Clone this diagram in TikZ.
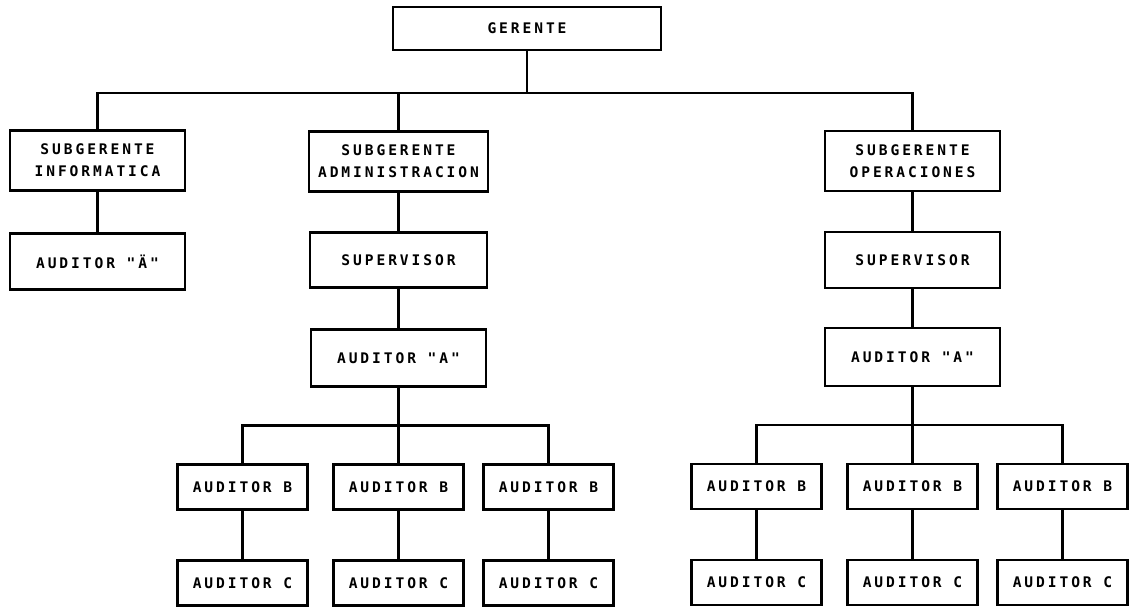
\documentclass[tikz,border=0pt]{standalone}
\usepackage{fontspec}
\newfontfamily\chartfont{DejaVu Sans Mono}[LetterSpace=20]
\usetikzlibrary{positioning}

\begin{document}
\begin{tikzpicture}[
        unit/.style={rectangle, minimum width=3.5cm, minimum height=1.2cm, text centered, draw=black, line width=1.3pt, outer sep=0pt, align=center, font=\chartfont\bfseries\fontsize{8.3pt}{12.5pt}\selectfont},
        head/.style={unit, minimum width=5.36cm, minimum height=0.86cm},
        small/.style={unit, minimum width=2.6cm, minimum height=0.9cm},
        link/.style={line width=1.3pt, line join=miter}
    ]
        \useasboundingbox (0,0) rectangle (22.78,-12.18);

        % Level 1: Gerente
        \node (gerente) [head] at (10.54,-0.57) {GERENTE};

        % Level 2: Subgerentes
        \node (subinfo) [unit] at (1.95,-3.21) {SUBGERENTE\\INFORMATICA};
        \node (subadmin) [unit, minimum width=3.58cm] at (7.97,-3.23) {SUBGERENTE\\ADMINISTRACION};
        \node (subops) [unit] at (18.25,-3.22) {SUBGERENTE\\OPERACIONES};

        % Level 3: under each subgerente
        \node (audinfo) [unit, minimum height=1.12cm, below=0.86cm of subinfo] {AUDITOR "Ä"};
        \node (supadmin) [unit, minimum width=3.54cm, minimum height=1.1cm, below=0.82cm of subadmin] {SUPERVISOR};
        \node (supops) [unit, minimum height=1.12cm, below=0.82cm of subops] {SUPERVISOR};

        % Level 4: Auditor A
        \node (audaadmin) [unit, minimum height=1.14cm, below=0.84cm of supadmin] {AUDITOR "A"};
        \node (audaops) [unit, minimum height=1.16cm, below=0.8cm of supops] {AUDITOR "A"};

        % Level 5: Auditor B (fan out)
        \node (badmin1) [small, below=1.56cm of audaadmin, xshift=-3.12cm] {AUDITOR B};
        \node (badmin2) [small, below=1.56cm of audaadmin] {AUDITOR B};
        \node (badmin3) [small, below=1.56cm of audaadmin, xshift=3.0cm] {AUDITOR B};
        \node (bops1) [small, below=1.56cm of audaops, xshift=-3.12cm] {AUDITOR B};
        \node (bops2) [small, below=1.56cm of audaops] {AUDITOR B};
        \node (bops3) [small, below=1.56cm of audaops, xshift=3.0cm] {AUDITOR B};

        % Level 6: Auditor C
        \node (cadmin1) [small, below=1.02cm of badmin1] {AUDITOR C};
        \node (cadmin2) [small, below=1.02cm of badmin2] {AUDITOR C};
        \node (cadmin3) [small, below=1.02cm of badmin3] {AUDITOR C};
        \node (cops1) [small, below=1.02cm of bops1] {AUDITOR C};
        \node (cops2) [small, below=1.02cm of bops2] {AUDITOR C};
        \node (cops3) [small, below=1.02cm of bops3] {AUDITOR C};

        % Lines from gerente to subgerentes
        \draw [link] (gerente.south) -- ++(0,-0.86) coordinate (topbus);
        \draw [link] (subinfo.north) |- (topbus) -| (subops.north);
        \draw [link] (subadmin.north) -- (subadmin.north |- topbus);

        % Vertical chains
        \draw [link] (subinfo) -- (audinfo);
        \draw [link] (subadmin) -- (supadmin);
        \draw [link] (supadmin) -- (audaadmin);
        \draw [link] (subops) -- (supops);
        \draw [link] (supops) -- (audaops);

        % Lines from auditor A to auditor B
        \draw [link] (audaadmin.south) -- ++(0,-0.78) coordinate (busadmin);
        \draw [link] (badmin1.north) |- (busadmin) -| (badmin3.north);
        \draw [link] (badmin2.north) -- (badmin2.north |- busadmin);
        \draw [link] (audaops.south) -- ++(0,-0.78) coordinate (busops);
        \draw [link] (bops1.north) |- (busops) -| (bops3.north);
        \draw [link] (bops2.north) -- (bops2.north |- busops);

        % Lines from auditor B to auditor C
        \draw [link] (badmin1) -- (cadmin1);
        \draw [link] (badmin2) -- (cadmin2);
        \draw [link] (badmin3) -- (cadmin3);
        \draw [link] (bops1) -- (cops1);
        \draw [link] (bops2) -- (cops2);
        \draw [link] (bops3) -- (cops3);

    \end{tikzpicture}
\end{document}
